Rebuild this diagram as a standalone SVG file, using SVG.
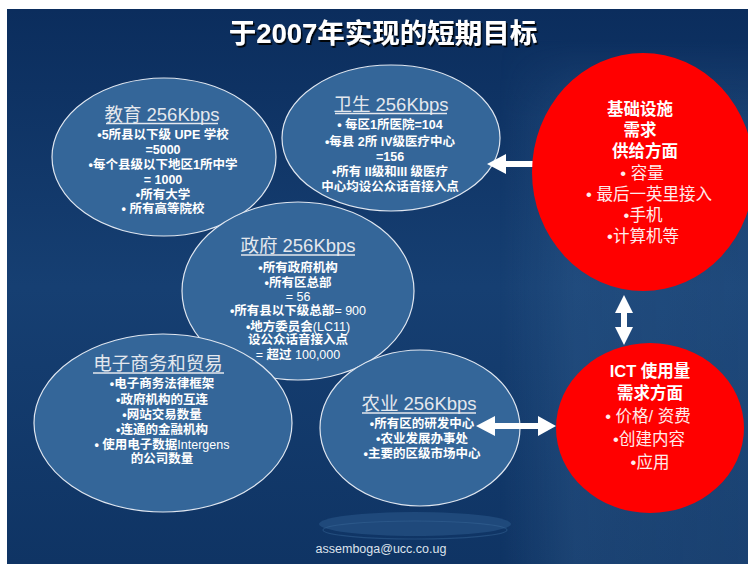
<svg xmlns="http://www.w3.org/2000/svg" width="748" height="564" viewBox="0 0 748 564">
<defs>
<linearGradient id="bg" x1="0" y1="0" x2="0" y2="1">
<stop offset="0" stop-color="#0b2d5d"/>
<stop offset="0.5" stop-color="#163f72"/>
<stop offset="1" stop-color="#0f3464"/>
</linearGradient>
<linearGradient id="side" x1="0" y1="0" x2="1" y2="0">
<stop offset="0" stop-color="#3a6898" stop-opacity="0"/>
<stop offset="0.3" stop-color="#3a6898" stop-opacity="0.3"/>
<stop offset="1" stop-color="#3a6898" stop-opacity="0.25"/>
</linearGradient>
<linearGradient id="sidev" x1="0" y1="0" x2="0" y2="1">
<stop offset="0" stop-color="#fff" stop-opacity="0"/>
<stop offset="0.15" stop-color="#fff" stop-opacity="1"/>
<stop offset="1" stop-color="#fff" stop-opacity="1"/>
</linearGradient>
<mask id="sm"><rect x="500" y="40" width="248" height="524" fill="url(#sidev)"/></mask>
<filter id="sh" x="-5%" y="-20%" width="110%" height="140%">
<feDropShadow dx="1.5" dy="2" stdDeviation="0.6" flood-color="#000" flood-opacity="0.9"/>
</filter>
<style>
.ell{fill:#346699;stroke:#dfe6f0;stroke-width:1.2}
.red{fill:#ff0000;stroke:none}
.hd{font-family:"Liberation Sans","Noto Sans CJK SC",sans-serif;font-size:18.5px;fill:#e4e8ee;text-anchor:middle}
.ul{stroke:#e4e8ee;stroke-width:1.3}
.b{font-family:"Liberation Sans","Noto Sans CJK SC",sans-serif;font-size:12.5px;font-weight:bold;fill:#ffffff;text-anchor:middle}
.n{font-weight:normal}
.rb{font-family:"Liberation Sans","Noto Sans CJK SC",sans-serif;font-size:16.5px;font-weight:bold;fill:#ffffff;text-anchor:middle}
.rn{font-family:"Liberation Sans","Noto Sans CJK SC",sans-serif;font-size:16.5px;fill:#ffecec;text-anchor:middle}
.arr{fill:#ffffff}
</style>
</defs>
<rect x="0" y="0" width="748" height="564" fill="#ffffff"/>
<rect x="7" y="9" width="741" height="555" fill="url(#bg)"/>
<rect x="500" y="40" width="248" height="524" fill="url(#side)" mask="url(#sm)"/>
<ellipse cx="415" cy="524" rx="96" ry="12" fill="#2a5789" opacity="0.6"/>
<ellipse cx="415" cy="530" rx="92" ry="9" fill="none" stroke="#3a6898" stroke-width="1.2" opacity="0.45"/>

<text x="383" y="43" font-family="Liberation Sans,'Noto Sans CJK SC',sans-serif" font-size="27.5" font-weight="bold" fill="#ffffff" text-anchor="middle" filter="url(#sh)">于2007年实现的短期目标</text>

<g id="edu-shape"><ellipse class="ell" cx="164" cy="157" rx="112" ry="79"/></g>
<g id="health-shape"><ellipse class="ell" cx="391" cy="138" rx="109" ry="73"/></g>
<g id="gov-shape"><ellipse class="ell" cx="298" cy="291" rx="116" ry="89"/></g>
<g id="ecom-shape"><ellipse class="ell" cx="163" cy="423" rx="129" ry="89"/></g>
<g id="agri-shape"><ellipse class="ell" cx="420" cy="428" rx="100" ry="78"/></g>

<g id="connectors">
<polygon class="arr" points="487,164 506,154 506,161 535,161 535,167 506,167 506,174"/>
<polygon class="arr" points="624,295 633,313 627,313 627,327 633,327 624,345 615,327 621,327 621,313 615,313"/>
<polygon class="arr" points="476,426 495,416 495,423 538,423 538,416 556,426 538,436 538,429 495,429 495,436"/>
</g>

<g id="education">
<text class="hd" x="162" y="121">教育 256Kbps</text>
<line class="ul" x1="106" y1="123.5" x2="218" y2="123.5"/>
<text class="b" x="163" y="139">•5所县以下级 UPE 学校</text>
<text class="b" x="163" y="154">=5000</text>
<text class="b" x="163" y="169">•每个县级以下地区1所中学</text>
<text class="b" x="163" y="184">= 1000</text>
<text class="b" x="163" y="199">•所有大学</text>
<text class="b" x="163" y="213">• 所有高等院校</text>
</g>

<g id="health">
<text class="hd" x="391" y="111">卫生 256Kbps</text>
<line class="ul" x1="335" y1="113.5" x2="447" y2="113.5"/>
<text class="b" x="390" y="129">• 每区1所医院=104</text>
<text class="b" x="390" y="146">•每县 2所 IV级医疗中心</text>
<text class="b" x="390" y="161">=156</text>
<text class="b" x="390" y="176">•所有 II级和III 级医疗</text>
<text class="b" x="390" y="191">中心均设公众话音接入点</text>
</g>

<g id="government">
<text class="hd" x="298" y="252">政府 256Kbps</text>
<line class="ul" x1="241" y1="255" x2="355" y2="255"/>
<text class="b" x="298" y="272">•所有政府机构</text>
<text class="b" x="298" y="287">•所有区总部</text>
<text class="b" x="298" y="301"><tspan class="n">= 56</tspan></text>
<text class="b" x="298" y="315">•所有县以下级总部<tspan class="n">= 900</tspan></text>
<text class="b" x="298" y="331">•地方委员会<tspan class="n">(LC11)</tspan></text>
<text class="b" x="298" y="344">设公众话音接入点</text>
<text class="b" x="298" y="359"><tspan class="n">= </tspan>超过 <tspan class="n">100,000</tspan></text>
</g>

<g id="ecommerce">
<text class="hd" x="158" y="370">电子商务和贸易</text>
<line class="ul" x1="93" y1="373" x2="224" y2="373"/>
<text class="b" x="162" y="388">•电子商务法律框架</text>
<text class="b" x="162" y="404">•政府机构的互连</text>
<text class="b" x="162" y="419">•网站交易数量</text>
<text class="b" x="162" y="434">•连通的金融机构</text>
<text class="b" x="162" y="449">• 使用电子数据<tspan class="n">Intergens</tspan></text>
<text class="b" x="162" y="463">的公司数量</text>
</g>

<g id="agriculture">
<text class="hd" x="419" y="410">农业 256Kbps</text>
<line class="ul" x1="362" y1="413" x2="476" y2="413"/>
<text class="b" x="422" y="428">•所有区的研发中心</text>
<text class="b" x="422" y="443">•农业发展办事处</text>
<text class="b" x="422" y="458">•主要的区级市场中心</text>
</g>

<g id="infrastructure">
<ellipse class="red" cx="643" cy="172" rx="111" ry="119"/>
<text class="rb" x="640" y="115">基础设施</text>
<text class="rb" x="640" y="136">需求</text>
<text class="rb" x="645" y="157">供给方面</text>
<text class="rn" x="642" y="179">• 容量</text>
<text class="rn" x="649" y="200">• 最后一英里接入</text>
<text class="rn" x="643" y="221">•手机</text>
<text class="rn" x="643" y="242">•计算机等</text>
</g>

<g id="ict">
<ellipse class="red" cx="650" cy="428" rx="94" ry="85"/>
<text class="rb" x="650" y="377">ICT 使用量</text>
<text class="rb" x="650" y="399">需求方面</text>
<text class="rn" x="648" y="422">• 价格/ 资费</text>
<text class="rn" x="649" y="445">•创建内容</text>
<text class="rn" x="650" y="468">•应用</text>
</g>

<text x="381" y="553" font-family="Liberation Sans,sans-serif" font-size="12.5" fill="#dde3ec" text-anchor="middle">assemboga@ucc.co.ug</text>
</svg>
